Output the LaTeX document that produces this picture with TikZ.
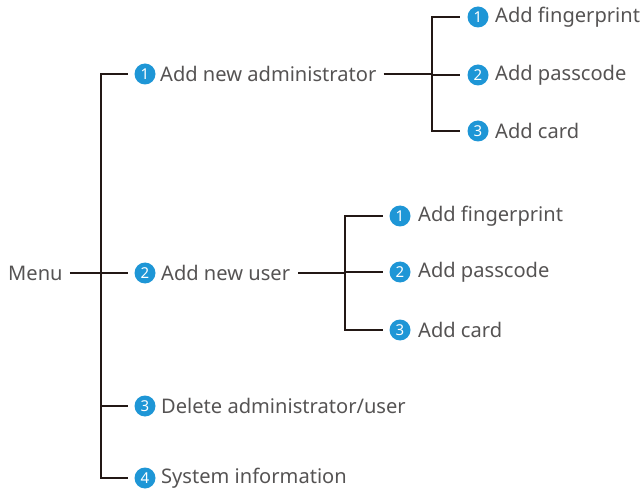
\documentclass[tikz,border=0pt]{standalone}
\usepackage{fontspec}
\setmainfont{Noto Sans}
\definecolor{txt}{HTML}{555353}
\definecolor{ln}{HTML}{231815}
\definecolor{blu}{HTML}{1E96D6}
\begin{document}
\begin{tikzpicture}[x=1pt,y=-1pt,
  lbl/.style={anchor=west,inner sep=0pt,text=txt,font=\fontsize{20.1}{24}\selectfont},
  num/.style={circle,fill=blu,text=white,inner sep=0pt,minimum size=21pt,font=\fontsize{15}{15}\selectfont\bfseries},
  conn/.style={draw=ln,line width=2pt}]
\useasboundingbox (0,0) rectangle (640,489);
% root
\node[lbl] (menu) at (8,273) {Menu};
\coordinate (jm) at (101,273);
% main items
\node[num] (c1) at (145,74) {1};
\node[lbl] (t1) at (160,74) {Add new administrator};
\node[num] (c2) at (145,273) {2};
\node[lbl] (t2) at (161,273) {Add new user};
\node[num] (c3) at (145,406) {3};
\node[lbl] (t3) at (161,406) {Delete administrator/user};
\node[num] (c4) at (145,478) {4};
\node[lbl] (t4) at (161,478) {System information};
% sub 1
\coordinate (j1) at (432,74);
\node[num] (s11) at (478,17) {1};
\node[lbl] (u11) at (495,17) {Add fingerprint};
\node[num] (s12) at (478,75) {2};
\node[lbl] (u12) at (495,75) {Add passcode};
\node[num] (s13) at (478,131) {3};
\node[lbl] (u13) at (495,131) {Add card};
% sub 2
\coordinate (j2) at (345,273);
\node[num] (s21) at (400,216) {1};
\node[lbl] (u21) at (418,216) {Add fingerprint};
\node[num] (s22) at (400,272) {2};
\node[lbl] (u22) at (418,272) {Add passcode};
\node[num] (s23) at (400,330) {3};
\node[lbl] (u23) at (418,330) {Add card};
% connectors
\draw[conn,shorten <=7pt,shorten >=6pt] (menu.east) -- (c2.west);
\draw[conn,shorten >=6pt] (jm) |- (c1.west);
\draw[conn,shorten >=6pt] (jm) |- (c3.west);
\draw[conn,shorten >=6pt] (jm) |- (c4.west);
\draw[conn,shorten <=7pt] (t1.east) -- (j1);
\draw[conn,shorten >=7pt] (j1) |- (s11.west);
\draw[conn,shorten >=7pt] (j1) |- (s12.west);
\draw[conn,shorten >=7pt] (j1) |- (s13.west);
\draw[conn,shorten <=8pt] (t2.east) -- (j2);
\draw[conn,shorten >=6pt] (j2) |- (s21.west);
\draw[conn,shorten >=6pt] (j2) |- (s22.west);
\draw[conn,shorten >=6pt] (j2) |- (s23.west);
\end{tikzpicture}
\end{document}
